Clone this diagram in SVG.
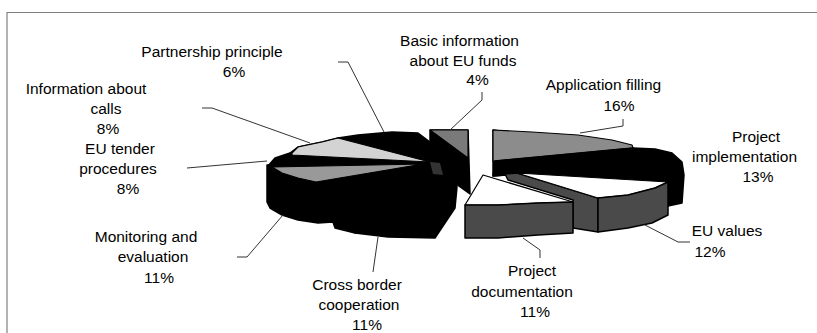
<svg xmlns="http://www.w3.org/2000/svg" width="817" height="333" viewBox="0 0 817 333">
<style>
  text { font-family: "Liberation Sans", Arial, sans-serif; font-size: 15.5px; fill: #000; text-anchor: middle; }
  .blk { fill: #000; stroke: #000; stroke-width: 1.5; stroke-linejoin: round; }
  .top { stroke: #000; stroke-width: 1.2; stroke-linejoin: round; }
  .dark { fill: #4a4a4a; stroke: #000; stroke-width: 1.5; stroke-linejoin: round; }
  .lead { fill: none; stroke: #333; stroke-width: 1; }
  .frame { fill: none; stroke: #808080; stroke-width: 1.2; }
</style>
<rect x="0" y="0" width="817" height="333" fill="#fff"/>
<polyline class="frame" points="7,333 7,12.5 817,12.5"/>

<g id="slice-partnership">
  <polygon class="blk" points="338,138 358,135 392,132 418,133 430,142 442,166"/>
  <text x="212" y="57">Partnership principle</text>
  <text x="234" y="77">6%</text>
</g>

<g id="slice-information-calls">
  <polygon class="blk" points="275,158 290,153 298,147 322,142 338,138 442,166 268,166"/>
  <polygon class="top" fill="#d3d3d3" points="292,153 298,147 322,142 338,138 430,162 292,155"/>
  <text x="86" y="94">Information about</text>
  <text x="106" y="114">calls</text>
  <text x="108" y="134">8%</text>
</g>

<g id="slice-monitoring">
  <polygon class="blk" points="267,165 442,166 355,233 335,228 333,222 318,223 298,220 282,215 270,208 267,202"/>
  <text x="146" y="242">Monitoring and</text>
  <text x="153" y="262">evaluation</text>
  <text x="159" y="283">11%</text>
</g>

<g id="slice-cross-border">
  <polygon class="blk" points="442,166 430,142 455,180 457,187 455,208 435,238 388,237 355,233"/>
  <text x="357" y="290">Cross border</text>
  <text x="359" y="310">cooperation</text>
  <text x="367" y="330">11%</text>
</g>

<g id="slice-eu-tender">
  <polygon class="top" fill="#999" points="272,167 423,164 316,182 298,178 282,173"/>
  <polygon fill="#333" points="430,162 440,163 443,175 433,174"/>
  <text x="120" y="154">EU tender</text>
  <text x="118" y="174">procedures</text>
  <text x="128" y="194">8%</text>
</g>

<g id="slice-basic-information">
  <polygon class="blk" points="430,130 468,130 470,194 456,184 430,145"/>
  <polygon class="top" fill="#7a7a7a" points="430,130 468,130 468,158"/>
  <text x="459.5" y="46">Basic information</text>
  <text x="463" y="66">about EU funds</text>
  <text x="477.5" y="85">4%</text>
</g>

<g id="slice-application-filling">
  <polygon class="blk" points="493,130 633,148 633,165 493,176"/>
  <polygon class="top" fill="#8c8c8c" points="493,130 532,132 578,135 612,140 632,145 633,148 495,161 493,161"/>
  <text x="603.5" y="90">Application filling</text>
  <text x="619" y="111">16%</text>
</g>

<g id="slice-project-implementation">
  <polygon class="blk" points="495,161 633,148 655,149 672,153 682,162 684,175 682,203 668,206 668,182 517,173 505,175 493,176"/>
  <text x="756" y="142">Project</text>
  <text x="744.5" y="162">implementation</text>
  <text x="758" y="182">13%</text>
</g>

<g id="slice-eu-values">
  <polygon class="dark" points="505,174 517,173 598,198 598,232 573,228 573,200 508,180"/>
  <polygon class="top" fill="#fff" points="517,173 668,182 655,188 628,195 598,198"/>
  <polygon class="dark" points="598,198 628,195 655,188 668,182 668,215 652,223 628,228 598,232"/>
  <text x="727" y="236">EU values</text>
  <text x="710" y="257">12%</text>
</g>

<g id="slice-project-documentation">
  <polygon class="top" fill="#fff" stroke-width="1.5" points="483,175 573,202 538,203 498,205 465,205"/>
  <polygon class="dark" points="465,205 498,205 538,203 573,202 573,233 538,235 498,238 465,238"/>
  <text x="532" y="276">Project</text>
  <text x="522" y="297">documentation</text>
  <text x="535" y="317">11%</text>
</g>

<g id="connectors">
  <polyline class="lead" points="482,92 482,100 450,130"/>
  <polyline class="lead" points="338,62 348,62 384,132"/>
  <polyline class="lead" points="202,108 212,108 310,143"/>
  <polyline class="lead" points="187,168 267,161"/>
  <polyline class="lead" points="237,257 247,257 283,215"/>
  <polyline class="lead" points="373,272 378,237"/>
  <polyline class="lead" points="540,258 540,250 523,238"/>
  <polyline class="lead" points="690,242 678,242 645,225"/>
  <polyline class="lead" points="623,119 623,126 580,133"/>
</g>
</svg>
